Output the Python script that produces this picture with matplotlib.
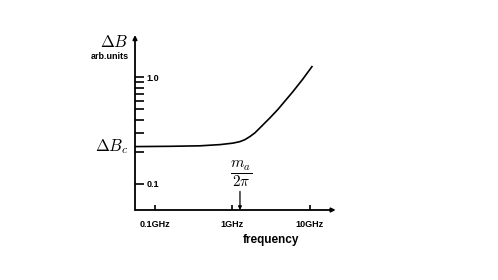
import matplotlib.pyplot as plt

plt.rcParams['mathtext.fontset'] = 'cm'

# curve (frequency in GHz, width in arb. units)
freq = [0.0552, 0.156, 0.381, 0.690, 1.015, 1.249, 1.450, 1.682, 1.951,
        2.264, 3.047, 3.865, 6.034, 8.124, 10.61]
width = [0.2232, 0.2246, 0.2270, 0.2330, 0.2406, 0.2486, 0.2596, 0.2775,
         0.3006, 0.3347, 0.4155, 0.4991, 0.7328, 0.9640, 1.2567]

x_ticks = [0.1, 1, 10]
x_labels = ['0.1GHz', '1GHz', '10GHz']
y_ticks = [0.1, 0.2, 0.3, 0.4, 0.5, 0.6, 0.7, 0.8, 0.9, 1.0]
y_labels = ['0.1', '', '', '', '', '', '', '', '', '1.0']

db_c = 0.224       # level of the flat part
m_a = 1.25         # position of the m_a/2pi arrow
arrow_top = 0.0847
frac_y = 0.122

fig = plt.figure(figsize=(4.98, 2.8), dpi=100)
ax = fig.add_axes([135 / 498, 70 / 280, 200.7 / 498, 175 / 280])

ax.plot(freq, width, color='black', lw=1.2)

ax.set_xscale('log')
ax.set_yscale('log')
ax.set_xlim(0.0552, 21.5)
ax.set_ylim(0.0567, 2.49)

for s in ax.spines.values():
    s.set_visible(False)

# axes with arrow heads
ax.annotate('', xy=(1, 0), xytext=(0, 0), xycoords='axes fraction',
            arrowprops=dict(arrowstyle='-|>', color='black', lw=1.3,
                            mutation_scale=6, shrinkA=0, shrinkB=0))
ax.annotate('', xy=(0, 1), xytext=(0, 0), xycoords='axes fraction',
            arrowprops=dict(arrowstyle='-|>', color='black', lw=1.3,
                            mutation_scale=6, shrinkA=0, shrinkB=0))

ax.xaxis.set_minor_locator(plt.NullLocator())
ax.yaxis.set_minor_locator(plt.NullLocator())
ax.set_xticks(x_ticks, labels=x_labels)
ax.set_yticks(y_ticks, labels=y_labels)
ax.tick_params(axis='x', direction='in', length=3.5, width=1.2, pad=7,
               labelsize=6.5)
ax.tick_params(axis='y', direction='in', length=6.5, width=1.2, pad=-8.5,
               labelsize=6.5)
for lab in ax.get_yticklabels():
    lab.set_horizontalalignment('left')
for lab in ax.get_xticklabels() + ax.get_yticklabels():
    lab.set_fontweight('bold')
    lab.set_fontfamily('Liberation Sans')

ax.set_xlabel('frequency', fontsize=8.5, fontweight='bold',
              fontfamily='Liberation Sans')
ax.xaxis.set_label_coords(0.675, -0.14)

# labels on the left
ax.text(-0.03, 0.96, r'$\Delta B$', transform=ax.transAxes, fontsize=12,
        ha='right', va='center')
ax.text(-0.03, 0.877, 'arb.units', transform=ax.transAxes, fontsize=6.5,
        fontweight='bold', fontfamily='Liberation Sans', ha='right',
        va='center')
ax.text(-0.03, db_c, r'$\Delta B_c$', transform=ax.get_yaxis_transform(),
        fontsize=12, ha='right', va='center')

# m_a / 2pi marker
ax.annotate('', xy=(m_a, 0), xycoords=('data', 'axes fraction'),
            xytext=(m_a, arrow_top), textcoords='data',
            arrowprops=dict(arrowstyle='-|>', color='black', lw=0.9,
                            mutation_scale=5, shrinkA=0, shrinkB=0))
ax.text(m_a * 1.03, frac_y, r'$\dfrac{m_a}{2\pi}$', fontsize=11,
        ha='center', va='center')

fig.savefig('out.png', dpi=100)
